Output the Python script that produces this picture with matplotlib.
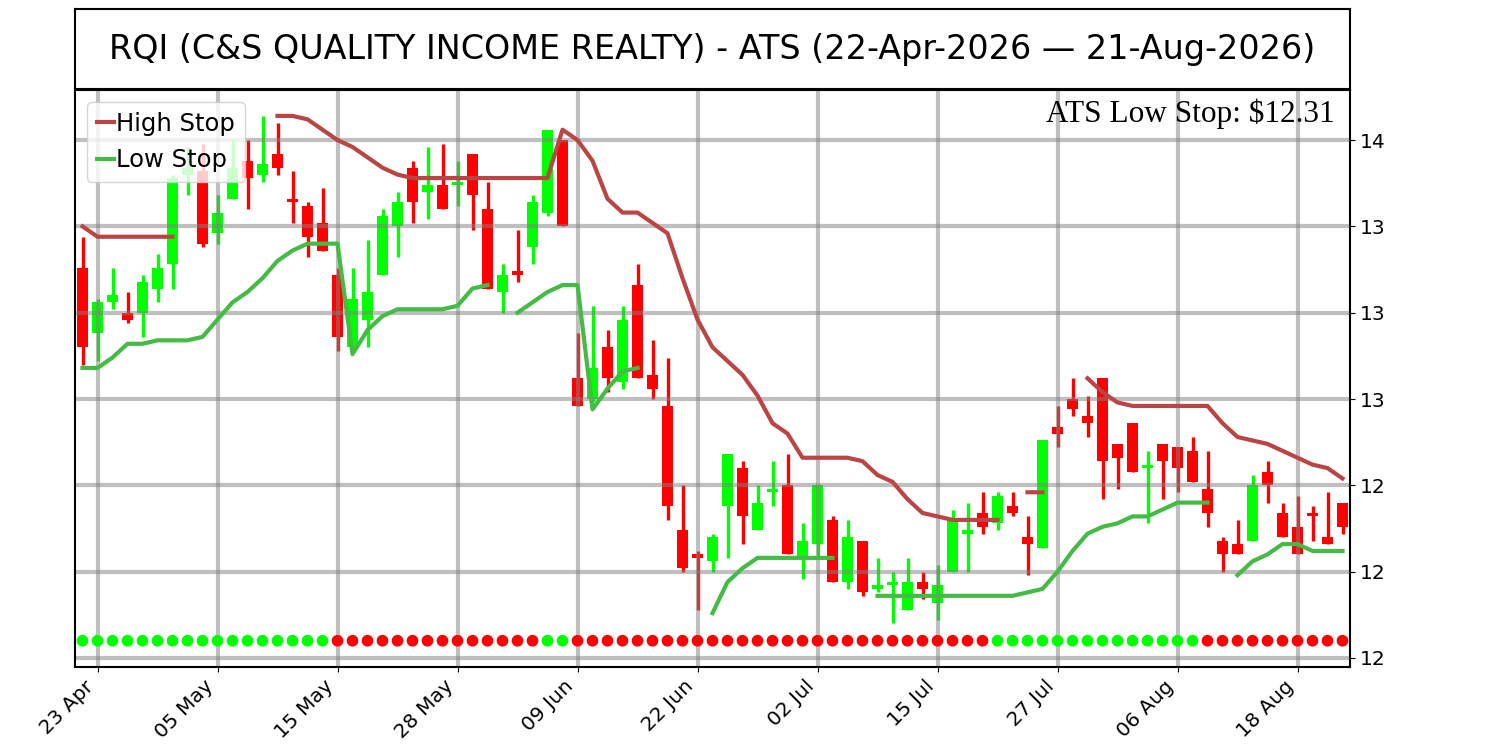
import numpy as np
import pandas as pd
import matplotlib
matplotlib.use("Agg")
import matplotlib.pyplot as plt
from matplotlib.ticker import FormatStrFormatter

# trading days (NYSE holidays removed)
holidays = ["2026-05-25", "2026-06-19", "2026-07-03"]
dates = pd.bdate_range("2026-04-22", "2026-08-21", freq="C", holidays=holidays)

opens = [13.13, 12.94, 13.03, 13.00, 13.00, 13.07, 13.14, 13.40, 13.41, 13.23,
         13.33, 13.44, 13.40, 13.46, 13.33, 13.31, 13.26, 13.11, 12.90, 12.98,
         13.11, 13.25, 13.42, 13.35, 13.37, 13.37, 13.46, 13.30, 13.06, 13.12,
         13.19, 13.29, 13.50, 12.81, 12.75, 12.90, 12.80, 13.08, 12.82, 12.73,
         12.37, 12.30, 12.28, 12.44, 12.55, 12.37, 12.48, 12.50, 12.29, 12.33,
         12.40, 12.22, 12.34, 12.20, 12.21, 12.14, 12.22, 12.16, 12.25, 12.36,
         12.42, 12.39, 12.44, 12.35, 12.32, 12.67, 12.75, 12.70, 12.81, 12.62,
         12.68, 12.55, 12.62, 12.61, 12.60, 12.49, 12.34, 12.33, 12.34, 12.54,
         12.42, 12.38, 12.42, 12.35, 12.45]
highs = [13.22, 13.04, 13.13, 13.06, 13.11, 13.17, 13.40, 13.48, 13.49, 13.34,
         13.50, 13.50, 13.57, 13.55, 13.41, 13.32, 13.36, 13.13, 13.13, 13.21,
         13.30, 13.35, 13.44, 13.48, 13.49, 13.44, 13.46, 13.38, 13.14, 13.24,
         13.34, 13.53, 13.50, 12.94, 13.02, 12.95, 13.02, 13.14, 12.92, 12.87,
         12.50, 12.31, 12.36, 12.59, 12.57, 12.50, 12.57, 12.59, 12.39, 12.50,
         12.41, 12.40, 12.34, 12.29, 12.25, 12.29, 12.25, 12.27, 12.43, 12.45,
         12.48, 12.48, 12.48, 12.41, 12.63, 12.73, 12.81, 12.76, 12.81, 12.62,
         12.68, 12.60, 12.62, 12.61, 12.64, 12.60, 12.35, 12.40, 12.53, 12.57,
         12.45, 12.47, 12.44, 12.48, 12.45]
lows = [12.85, 12.86, 13.01, 12.97, 12.93, 13.03, 13.07, 13.34, 13.19, 13.20,
        13.33, 13.30, 13.38, 13.40, 13.26, 13.16, 13.18, 12.89, 12.89, 12.90,
        13.11, 13.16, 13.26, 13.27, 13.30, 13.31, 13.24, 13.07, 13.00, 13.09,
        13.14, 13.28, 13.25, 12.73, 12.74, 12.77, 12.78, 12.81, 12.75, 12.40,
        12.25, 12.14, 12.25, 12.29, 12.33, 12.37, 12.44, 12.30, 12.23, 12.29,
        12.22, 12.20, 12.18, 12.19, 12.10, 12.14, 12.17, 12.11, 12.25, 12.25,
        12.36, 12.37, 12.41, 12.24, 12.32, 12.61, 12.70, 12.64, 12.46, 12.49,
        12.54, 12.39, 12.46, 12.48, 12.51, 12.38, 12.25, 12.30, 12.34, 12.45,
        12.35, 12.30, 12.34, 12.33, 12.36]
closes = [12.90, 13.03, 13.05, 12.98, 13.09, 13.13, 13.39, 13.42, 13.20, 13.29,
          13.42, 13.39, 13.43, 13.42, 13.32, 13.22, 13.18, 12.93, 13.04, 13.06,
          13.28, 13.32, 13.32, 13.37, 13.30, 13.38, 13.34, 13.07, 13.11, 13.11,
          13.32, 13.53, 13.25, 12.73, 12.84, 12.81, 12.98, 12.81, 12.78, 12.44,
          12.26, 12.29, 12.35, 12.59, 12.41, 12.45, 12.49, 12.30, 12.34, 12.50,
          12.22, 12.35, 12.19, 12.21, 12.22, 12.22, 12.20, 12.21, 12.40, 12.37,
          12.38, 12.47, 12.42, 12.33, 12.63, 12.65, 12.72, 12.68, 12.57, 12.58,
          12.54, 12.56, 12.57, 12.55, 12.51, 12.42, 12.30, 12.30, 12.50, 12.50,
          12.35, 12.30, 12.41, 12.33, 12.38]

nan = np.nan
high_stop = [13.25, 13.22, 13.22, 13.22, 13.22, 13.22, 13.22, nan, nan, nan,
             nan, nan, nan, 13.57, 13.57, 13.56, 13.53, 13.50, 13.48, 13.45,
             13.42, 13.40, 13.39, 13.39, 13.39, 13.39, 13.39, 13.39, 13.39, 13.39,
             13.39, 13.39, 13.53, 13.50, 13.44, 13.33, 13.29, 13.29, 13.26, 13.23,
             13.10, 12.98, 12.90, 12.86, 12.82, 12.76, 12.68, 12.65, 12.58, 12.58,
             12.58, 12.58, 12.57, 12.53, 12.51, 12.46, 12.42, 12.41, 12.40, 12.40,
             12.40, 12.40, nan, 12.48, 12.48, nan, nan, 12.81, 12.77, 12.74,
             12.73, 12.73, 12.73, 12.73, 12.73, 12.73, 12.68, 12.64, 12.63, 12.62,
             12.60, 12.58, 12.56, 12.55, 12.52]
low_stop = [12.84, 12.84, 12.87, 12.91, 12.91, 12.92, 12.92, 12.92, 12.93, 12.98,
            13.03, 13.06, 13.10, 13.15, 13.18, 13.20, 13.20, 13.20, 12.88, 12.95,
            12.99, 13.01, 13.01, 13.01, 13.01, 13.02, 13.07, 13.08, nan, 13.00,
            13.03, 13.06, 13.08, 13.08, 12.72, 12.78, 12.83, 12.84, nan, nan,
            nan, nan, 12.13, 12.22, 12.26, 12.29, 12.29, 12.29, 12.29, 12.29,
            12.29, nan, nan, 12.18, 12.18, 12.18, 12.18, 12.18, 12.18, 12.18,
            12.18, 12.18, 12.18, 12.19, 12.20, 12.25, 12.31, 12.36, 12.38, 12.39,
            12.41, 12.41, 12.43, 12.45, 12.45, 12.45, nan, 12.24, 12.28, 12.30,
            12.33, 12.33, 12.31, 12.31, 12.31]
# 1 = up trend (green dot), -1 = down trend (red dot)
trend = [1] * 17 + [-1] * 14 + [1] * 2 + [-1] * 28 + [1] * 14 + [-1] * 10

title = "RQI (C&S QUALITY INCOME REALTY) - ATS (22-Apr-2026 \u2014 21-Aug-2026)"
last_low_stop = 12.31
dot_level = 12.05

o = np.array(opens)
c = np.array(closes)
x = np.arange(len(dates))
cols = np.where(c >= o, "#00ff00", "#ff0000")

fig = plt.figure(figsize=(15, 7.5), dpi=100)
ax = fig.add_axes([0.05, 0.1107, 0.85, 0.7693])
tax = fig.add_axes([0.05, 0.881, 0.85, 0.107])

# candles
ax.vlines(x, lows, highs, colors=cols, linewidth=2.4, zorder=1)
ax.bar(x, np.abs(c - o), bottom=np.minimum(o, c), width=0.7, color=cols, zorder=1)

ax.plot(x, high_stop, color="#bb4444", linewidth=3, label="High Stop", zorder=2)
ax.plot(x, low_stop, color="#44bb44", linewidth=3, label="Low Stop", zorder=2)

dot_cols = ["#00ff00" if t > 0 else "#ff0000" for t in trend]
ax.scatter(x, [dot_level] * len(x), c=dot_cols, s=55, zorder=3)

ax.set_xlim(-0.5, len(x) - 0.5)
ax.set_ylim(11.974, 13.645)
ax.yaxis.tick_right()
ax.set_yticks(np.arange(12.0, 13.51, 0.25))
ax.yaxis.set_major_formatter(FormatStrFormatter("%.0f"))
tick_idx = x[1::8]
ax.set_xticks(tick_idx)
ax.set_xticklabels([dates[i].strftime("%d %b") for i in tick_idx],
                   rotation=45, ha="right")
ax.tick_params(labelsize=14.5)
ax.grid(True, color="gray", alpha=0.5, linewidth=3)
for s in ax.spines.values():
    s.set_linewidth(1.5)

ax.legend(loc="upper left", fontsize=17.5, handlelength=0.7, handletextpad=0.1)
ax.text(0.988, 0.985, f"ATS Low Stop: ${last_low_stop:.2f}", transform=ax.transAxes,
        ha="right", va="top", fontsize=22.5, family="Liberation Serif")

tax.set_xticks([])
tax.set_yticks([])
for s in tax.spines.values():
    s.set_linewidth(1.5)
tax.text(0.5, 0.5, title, ha="center", va="center", fontsize=24)

fig.savefig("out.png", dpi=100)
